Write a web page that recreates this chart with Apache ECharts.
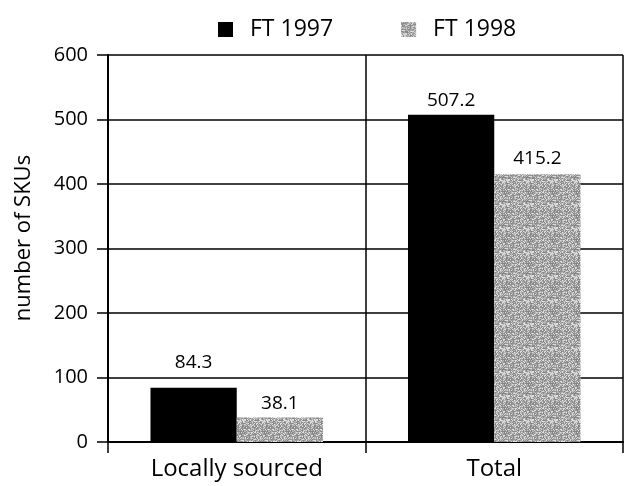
<!DOCTYPE html>
<html><head><meta charset="utf-8">
<script src="https://cdn.jsdelivr.net/npm/echarts@6/dist/echarts.min.js"></script>
<style>html,body{margin:0;padding:0;background:#fff}#c{width:629px;height:486px}</style>
</head><body><div id="c"></div>
<script>
const categories = ['Locally sourced', 'Total'];
const seriesNames = ['FT 1997', 'FT 1998'];
const ft1997 = [84.3, 507.2];
const ft1998 = [38.1, 415.2];
const yTicks = [0, 100, 200, 300, 400, 500, 600];
const axisTitle = 'number of SKUs';

// label gaps above bars (style only)
const gap1997 = [16, 5];
const gap1998 = [4, 6];

// stippled grey fill built from a fixed hash (deterministic texture)
function makePattern() {
  const n = 24;
  const c = document.createElement('canvas');
  c.width = n; c.height = n;
  const g = c.getContext('2d');
  const img = g.createImageData(n, n);
  for (let y = 0; y < n; y++) for (let x = 0; x < n; x++) {
    let h = (x * 374761393 + y * 668265263) >>> 0;
    h = ((h ^ (h >>> 13)) * 1274126177) >>> 0;
    h = (h ^ (h >>> 16)) >>> 0;
    const r = (h % 1000) / 1000;
    const v = r < 0.5 ? 128 + Math.floor(r * 60) : (r < 0.82 ? 170 + Math.floor(r * 20) : 222);
    const i = (y * n + x) * 4;
    img.data[i] = img.data[i + 1] = img.data[i + 2] = v; img.data[i + 3] = 255;
  }
  g.putImageData(img, 0, 0);
  return c;
}
const pat = makePattern();
const font = '"Open Sans", "Noto Sans", sans-serif';

const labelBase = {show: true, position: 'top', fontSize: 19, color: '#000', fontFamily: font};

const chart = echarts.init(document.getElementById('c'), null, {renderer: 'canvas'});
chart.setOption({
  animation: false,
  textStyle: {fontFamily: font, color: '#000'},
  legend: {
    top: 13, left: 213, itemWidth: 15, itemHeight: 15, itemGap: 68,
    textStyle: {fontSize: 23, lineHeight: 23, color: '#000', fontFamily: font, padding: [0, 0, 0, 12]},
    data: [{name: seriesNames[0], icon: 'rect'}, {name: seriesNames[1], icon: 'rect'}]
  },
  graphic: [{
    type: 'text', x: 24, y: 238, rotation: Math.PI / 2,
    style: {text: axisTitle, font: '22px ' + font, fill: '#000', align: 'center', verticalAlign: 'middle'}
  }],
  grid: {left: 108, right: 6, top: 55, bottom: 44},
  xAxis: {
    type: 'category', data: categories,
    axisLine: {show: true, lineStyle: {color: '#000', width: 2}},
    axisTick: {show: true, length: 11, lineStyle: {color: '#000', width: 1.5}},
    axisLabel: {fontSize: 24, color: '#000', margin: 15, fontFamily: font},
    splitLine: {show: true, lineStyle: {color: '#000', width: 1.5}}
  },
  yAxis: {
    type: 'value', min: yTicks[0], max: yTicks[yTicks.length - 1], interval: 100,
    axisLine: {show: true, lineStyle: {color: '#000', width: 2}},
    axisTick: {show: true, length: 11, lineStyle: {color: '#000', width: 1.5}},
    axisLabel: {fontSize: 20, color: '#000', margin: 20, fontFamily: font},
    splitLine: {show: true, lineStyle: {color: '#000', width: 1.5}}
  },
  series: [
    {
      name: seriesNames[0], type: 'bar',
      data: ft1997.map((v, i) => ({value: v, label: {distance: gap1997[i]}})),
      barGap: '0%', barCategoryGap: '33%',
      itemStyle: {color: '#000'},
      label: labelBase
    },
    {
      name: seriesNames[1], type: 'bar',
      data: ft1998.map((v, i) => ({value: v, label: {distance: gap1998[i]}})),
      barGap: '0%', barCategoryGap: '33%',
      itemStyle: {color: {image: pat, repeat: 'repeat'}},
      label: labelBase
    }
  ]
});
</script></body></html>
